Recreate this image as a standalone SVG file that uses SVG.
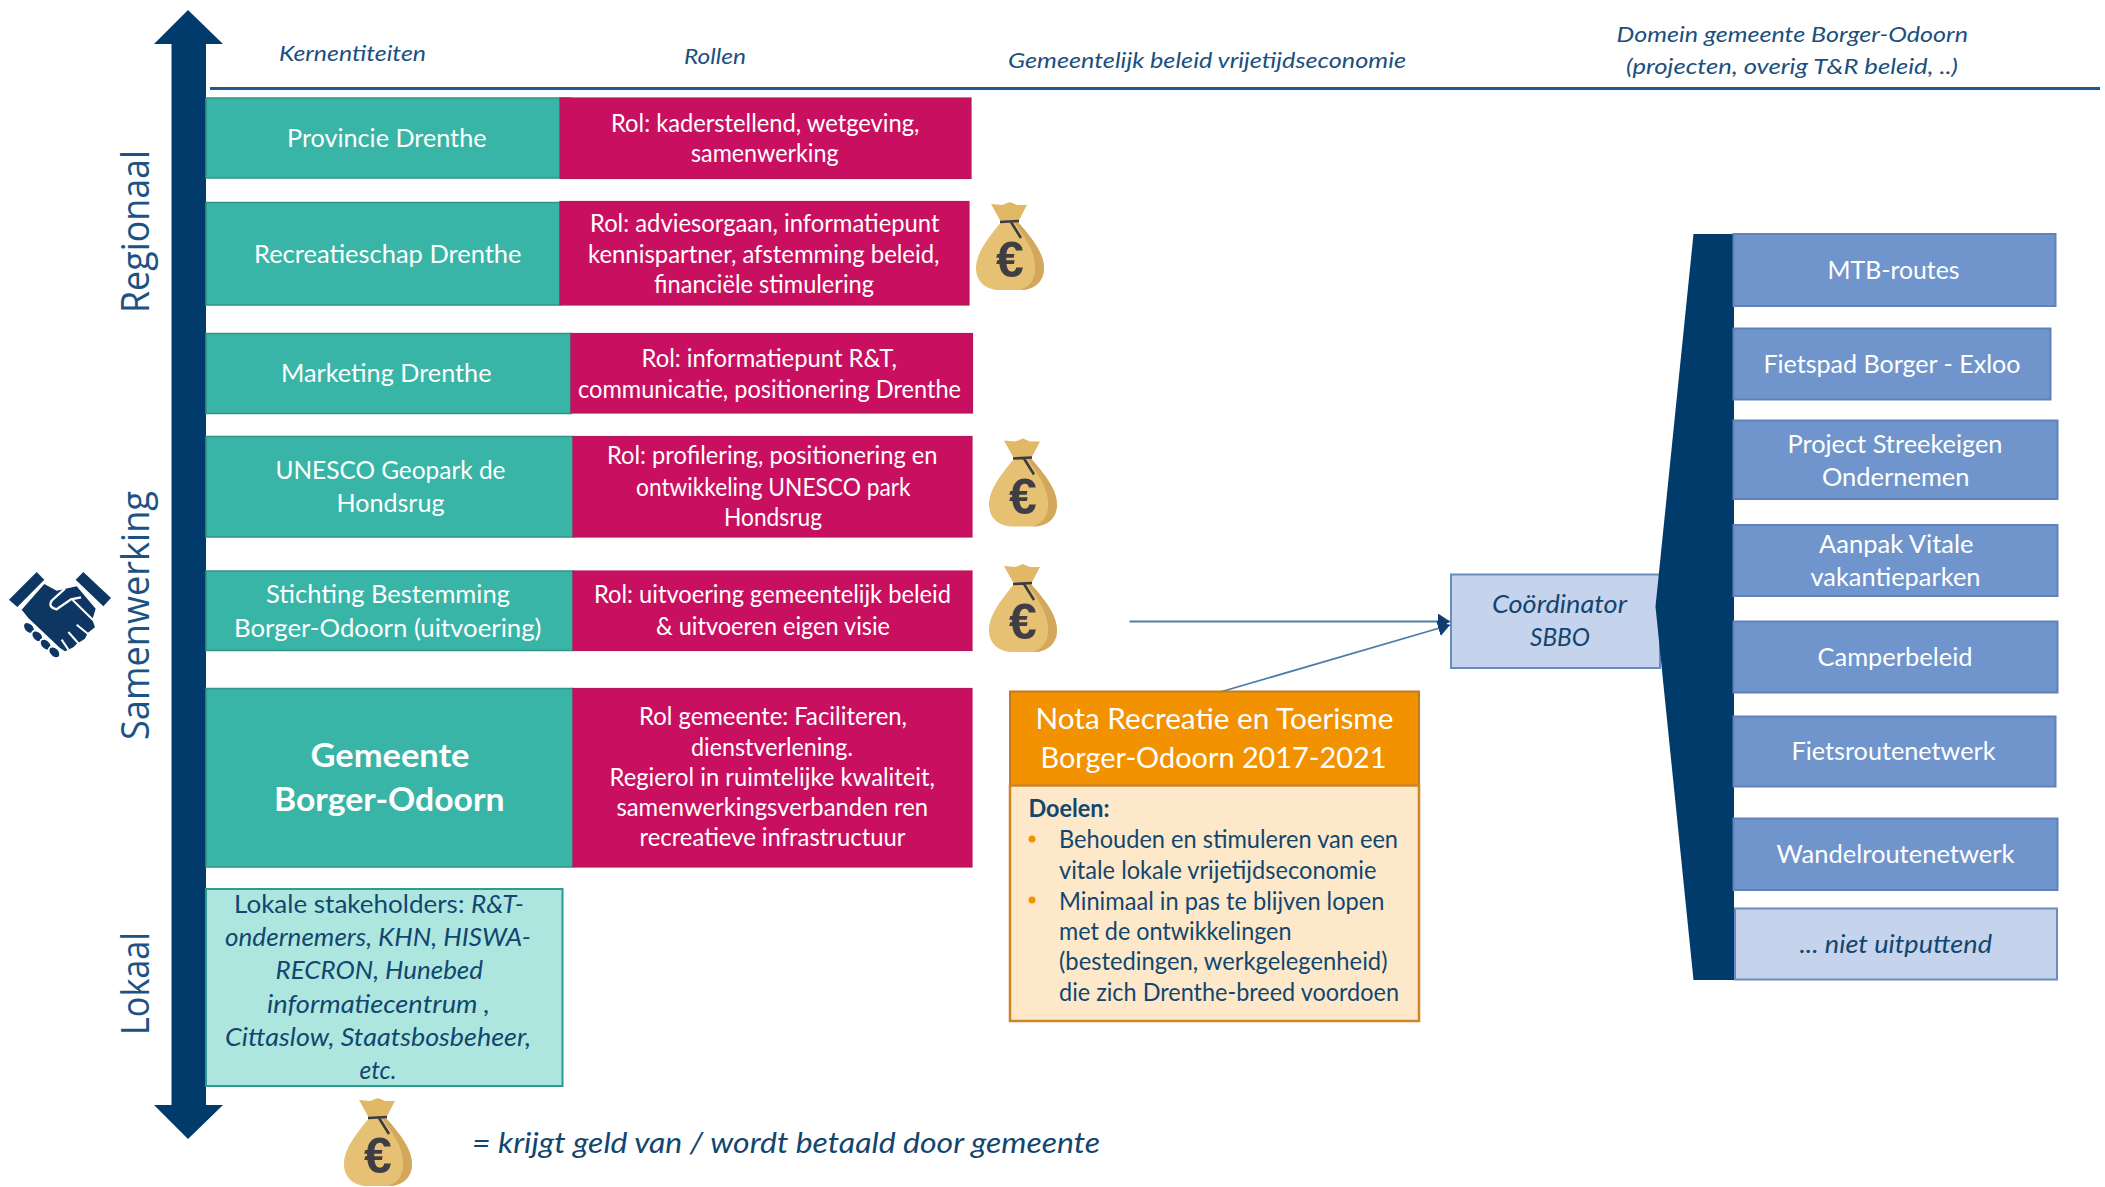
<svg xmlns="http://www.w3.org/2000/svg" xmlns:xlink="http://www.w3.org/1999/xlink" width="2105" height="1187" viewBox="0 0 2105 1187">
<style>
text{font-family:Lato,"Liberation Sans",sans-serif;white-space:pre}
.w{fill:#fff;font-size:25px}
.d{fill:#12466f;font-size:25px}
.i{font-style:italic}
.h{fill:#1c4f7d;font-size:22px;font-style:italic}
.b{font-weight:700}
.s{font-family:"Open Sans","Noto Sans",sans-serif;font-size:38px;fill:#1c5384}
.g{fill:#38b5a6;stroke:#2f9588;stroke-width:1.5}
.p{fill:#c90f60;stroke:#b3195c;stroke-width:1.2}
.lg{fill:#ade6df;stroke:#2b9c8e;stroke-width:2}
.bl{fill:#7095cc;stroke:#5f82b8;stroke-width:2}
.lb{fill:#c5d4ec;stroke:#6a8cbb;stroke-width:2}
.c{fill:none;stroke:#4f7ca6;stroke-width:1.8}
</style>
<defs>
<marker id="ah" markerUnits="userSpaceOnUse" markerWidth="12" markerHeight="16" refX="12" refY="8" orient="auto"><path d="M0 0L12 8L0 16Z" fill="#0e3f6e"/></marker>
<symbol id="bag" viewBox="0 0 68 88" overflow="visible">
<path d="M15 2L26 3L34 0L41 3L51 3L42 20L25 20Z" fill="#e1b866"/>
<path d="M25 20C14 34 0 50 0 66C0 80 10 88 24 88L44 88C58 88 68 80 68 66C68 50 54 34 42 20Z" fill="#e6c173"/>
<path d="M42 20C54 34 68 50 68 66C68 80 58 88 44 88C55 84 60 76 59 62C58 48 48 34 38 20Z" fill="#d3a85c"/>
<path d="M24 20L43 19M35 20L45 36" fill="none" stroke="#3c3c40" stroke-width="2.6"/>
<text x="34" y="75" font-size="50" font-weight="700" text-anchor="middle" fill="#3e3e44" style="font-family:'Liberation Sans',sans-serif">€</text>
</symbol>
</defs>
<rect width="2105" height="1187" fill="#fff"/>

<g id="axis">
<path d="M188 10L223 44H206V1105H223L188 1139L154 1105H171.500V44H154Z" fill="#003b6b"/>
<text class="s" transform="translate(149,313) rotate(-90)" textLength="163" lengthAdjust="spacingAndGlyphs">Regionaal</text>
<text class="s" transform="translate(149,740) rotate(-90)" textLength="249" lengthAdjust="spacingAndGlyphs">Samenwerking</text>
<text class="s" transform="translate(149,1035) rotate(-90)" textLength="103" lengthAdjust="spacingAndGlyphs">Lokaal</text>
</g>

<g id="handshake" transform="translate(5,568) scale(.3333)" fill="#0d3663">
<path d="M12 95L95 12L118 35L37 117Z"/>
<path d="M212 35L235 12L318 90L295 115Z"/>
<path d="M50 125L118 48L155 68L215 55L272 122L262 155L270 178L248 195L240 212L215 228L205 238L180 250L165 240L70 150Z"/>
<path d="M180 62L140 98Q128 118 155 124L198 94L228 88" stroke="#fff" stroke-width="7"/>
<path d="M203 96L268 160M215 170L252 200M190 192L222 228M170 215L190 245" fill="none" stroke="#fff" stroke-width="6"/>
<g stroke="#fff" stroke-width="5">
<ellipse cx="72" cy="180" rx="20" ry="14" transform="rotate(45 72 180)"/>
<ellipse cx="97" cy="205" rx="20" ry="14" transform="rotate(45 97 205)"/>
<ellipse cx="122" cy="230" rx="20" ry="14" transform="rotate(45 122 230)"/>
<ellipse cx="148" cy="253" rx="20" ry="14" transform="rotate(45 148 253)"/>
</g>
</g>

<g id="header-labels">
<text class="h" x="279" y="60.500" textLength="147" lengthAdjust="spacingAndGlyphs">Kernentiteiten</text>
<text class="h" x="684" y="63.500" textLength="62" lengthAdjust="spacingAndGlyphs">Rollen</text>
<text class="h" x="1008" y="68" textLength="398" lengthAdjust="spacingAndGlyphs">Gemeentelijk beleid vrijetijdseconomie</text>
<text class="h" x="1616.500" y="42" textLength="351.500" lengthAdjust="spacingAndGlyphs">Domein gemeente Borger-Odoorn</text>
<text class="h" x="1626" y="73.500" textLength="332" lengthAdjust="spacingAndGlyphs">(projecten, overig T&amp;R beleid, ..)</text>
<line x1="210" y1="88.500" x2="2100" y2="88.500" stroke="#1f5a8e" stroke-width="3"/>
</g>

<g id="n-provincie">
<rect class="g" x="206" y="98" width="365" height="80"/>
<text class="w" x="287" y="147" textLength="199.500" lengthAdjust="spacingAndGlyphs">Provincie Drenthe</text>
</g>
<g id="r-provincie">
<rect class="p" x="560" y="98" width="411" height="80.500"/>
<text class="w" x="611" y="131.500" textLength="308.500" lengthAdjust="spacingAndGlyphs">Rol: kaderstellend, wetgeving,</text>
<text class="w" x="691" y="162" textLength="147.500" lengthAdjust="spacingAndGlyphs">samenwerking</text>
</g>

<g id="n-recreatieschap">
<rect class="g" x="206" y="202.500" width="354" height="102.500"/>
<text class="w" x="254" y="262.500" textLength="267.500" lengthAdjust="spacingAndGlyphs">Recreatieschap Drenthe</text>
</g>
<g id="r-recreatieschap">
<rect class="p" x="560" y="201.500" width="409" height="103.500"/>
<text class="w" x="590" y="231.500" textLength="349.500" lengthAdjust="spacingAndGlyphs">Rol: adviesorgaan, informatiepunt</text>
<text class="w" x="588" y="262.500" textLength="351.500" lengthAdjust="spacingAndGlyphs">kennispartner, afstemming beleid,</text>
<text class="w" x="654" y="292.500" textLength="220" lengthAdjust="spacingAndGlyphs">financiële stimulering</text>
</g>

<g id="n-marketing">
<rect class="g" x="206" y="333.500" width="365" height="80"/>
<text class="w" x="281" y="382" textLength="210.500" lengthAdjust="spacingAndGlyphs">Marketing Drenthe</text>
</g>
<g id="r-marketing">
<rect class="p" x="571" y="333.500" width="401.500" height="79.500"/>
<text class="w" x="641.500" y="366.500" textLength="255.500" lengthAdjust="spacingAndGlyphs">Rol: informatiepunt R&amp;T,</text>
<text class="w" x="578" y="398" textLength="383" lengthAdjust="spacingAndGlyphs">communicatie, positionering Drenthe</text>
</g>

<g id="n-unesco">
<rect class="g" x="206" y="436.500" width="367" height="100.500"/>
<text class="w" x="275.500" y="478.500" textLength="230" lengthAdjust="spacingAndGlyphs">UNESCO Geopark de</text>
<text class="w" x="336.500" y="512" textLength="108" lengthAdjust="spacingAndGlyphs">Hondsrug</text>
</g>
<g id="r-unesco">
<rect class="p" x="573" y="436.500" width="399" height="100.500"/>
<text class="w" x="607" y="464" textLength="330.500" lengthAdjust="spacingAndGlyphs">Rol: profilering, positionering en</text>
<text class="w" x="636" y="495.500" textLength="274.500" lengthAdjust="spacingAndGlyphs">ontwikkeling UNESCO park</text>
<text class="w" x="724" y="525.500" textLength="98" lengthAdjust="spacingAndGlyphs">Hondsrug</text>
</g>

<g id="n-stichting">
<rect class="g" x="206" y="571" width="367" height="79.500"/>
<text class="w" x="266" y="603" textLength="244" lengthAdjust="spacingAndGlyphs">Stichting Bestemming</text>
<text class="w" x="234" y="636.500" textLength="307.500" lengthAdjust="spacingAndGlyphs">Borger-Odoorn (uitvoering)</text>
</g>
<g id="r-stichting">
<rect class="p" x="573" y="571" width="399" height="79.500"/>
<text class="w" x="594" y="603" textLength="357" lengthAdjust="spacingAndGlyphs">Rol: uitvoering gemeentelijk beleid</text>
<text class="w" x="656" y="634.500" textLength="234" lengthAdjust="spacingAndGlyphs">&amp; uitvoeren eigen visie</text>
</g>

<g id="n-gemeente">
<rect class="g" x="206" y="688.500" width="367" height="178.500"/>
<text class="w b" style="font-size:32px" x="310.500" y="767" textLength="159" lengthAdjust="spacingAndGlyphs">Gemeente</text>
<text class="w b" style="font-size:32px" x="274" y="811" textLength="230.500" lengthAdjust="spacingAndGlyphs">Borger-Odoorn</text>
</g>
<g id="r-gemeente">
<rect class="p" x="573" y="688.500" width="399" height="178.500"/>
<text class="w" x="639" y="724.500" textLength="268" lengthAdjust="spacingAndGlyphs">Rol gemeente: Faciliteren,</text>
<text class="w" x="691" y="755.500" textLength="162" lengthAdjust="spacingAndGlyphs">dienstverlening.</text>
<text class="w" x="609.500" y="785.500" textLength="325.500" lengthAdjust="spacingAndGlyphs">Regierol in ruimtelijke kwaliteit,</text>
<text class="w" x="616.500" y="816" textLength="311.500" lengthAdjust="spacingAndGlyphs">samenwerkingsverbanden ren</text>
<text class="w" x="639.500" y="846" textLength="266" lengthAdjust="spacingAndGlyphs">recreatieve infrastructuur</text>
</g>

<g id="n-lokaal">
<rect class="lg" x="206" y="889" width="356.500" height="197"/>
<text class="d" x="234" y="913" textLength="290" lengthAdjust="spacingAndGlyphs">Lokale stakeholders: <tspan class="i">R&amp;T-</tspan></text>
<text class="d i" x="225" y="946" textLength="306" lengthAdjust="spacingAndGlyphs">ondernemers, KHN, HISWA-</text>
<text class="d i" x="275.500" y="979" textLength="207.500" lengthAdjust="spacingAndGlyphs">RECRON, Hunebed</text>
<text class="d i" x="267" y="1012.500" textLength="223" lengthAdjust="spacingAndGlyphs">informatiecentrum ,</text>
<text class="d i" x="225" y="1045.500" textLength="306" lengthAdjust="spacingAndGlyphs">Cittaslow, Staatsbosbeheer,</text>
<text class="d i" x="359.500" y="1079" textLength="37" lengthAdjust="spacingAndGlyphs">etc.</text>
</g>

<g id="bags">
<use xlink:href="#bag" href="#bag" x="976" y="202" width="68" height="88"/>
<use xlink:href="#bag" href="#bag" x="989" y="438.500" width="68" height="88"/>
<use xlink:href="#bag" href="#bag" x="989" y="564" width="68" height="88"/>
<use xlink:href="#bag" href="#bag" x="344" y="1098" width="68" height="88"/>
</g>
<g id="legend">
<text class="d i" style="font-size:28px" x="472" y="1153" textLength="628" lengthAdjust="spacingAndGlyphs">= krijgt geld van / wordt betaald door gemeente</text>
</g>

<g id="connectors">
<line class="c" x1="1129.500" y1="621.500" x2="1450" y2="621.500" marker-end="url(#ah)"/>
<line class="c" x1="1215" y1="693.500" x2="1450" y2="625" marker-end="url(#ah)"/>
</g>

<g id="n-nota">
<rect x="1010" y="691.500" width="409" height="94" fill="#f29200" stroke="#c67a1f" stroke-width="2"/>
<rect x="1010" y="785.500" width="409" height="235.500" fill="#fde9c9" stroke="#cf8426" stroke-width="2.500"/>
<text class="w" style="font-size:28px" x="1035.500" y="729" textLength="358" lengthAdjust="spacingAndGlyphs">Nota Recreatie en Toerisme</text>
<text class="w" style="font-size:28px" x="1040.500" y="767.500" textLength="346" lengthAdjust="spacingAndGlyphs">Borger-Odoorn 2017-2021</text>
<text class="d b" x="1028.500" y="816.500" textLength="81" lengthAdjust="spacingAndGlyphs">Doelen:</text>
<circle cx="1032" cy="839" r="3.500" fill="#f29200"/>
<text class="d" x="1059" y="848" textLength="339" lengthAdjust="spacingAndGlyphs">Behouden en stimuleren van een</text>
<text class="d" x="1059" y="879" textLength="317.500" lengthAdjust="spacingAndGlyphs">vitale lokale vrijetijdseconomie</text>
<circle cx="1032" cy="900" r="3.500" fill="#f29200"/>
<text class="d" x="1059" y="910" textLength="325.500" lengthAdjust="spacingAndGlyphs">Minimaal in pas te blijven lopen</text>
<text class="d" x="1059" y="940" textLength="232.500" lengthAdjust="spacingAndGlyphs">met de ontwikkelingen</text>
<text class="d" x="1059" y="970" textLength="328.500" lengthAdjust="spacingAndGlyphs">(bestedingen, werkgelegenheid)</text>
<text class="d" x="1059" y="1001" textLength="340" lengthAdjust="spacingAndGlyphs">die zich Drenthe-breed voordoen</text>
</g>

<g id="n-coordinator">
<rect class="lb" x="1451" y="574.500" width="209" height="93.500"/>
<text class="d i" x="1492" y="613" textLength="135" lengthAdjust="spacingAndGlyphs">Coördinator</text>
<text class="d i" x="1530" y="646" textLength="60" lengthAdjust="spacingAndGlyphs">SBBO</text>
</g>

<g id="bracket">
<path d="M1693.500 234H1734V980H1693.500L1655.500 606.500Z" fill="#003b6b"/>
</g>

<g id="n-mtb"><rect class="bl" x="1733.500" y="234" width="322" height="72"/>
<text class="w" x="1827.500" y="279" textLength="132" lengthAdjust="spacingAndGlyphs">MTB-routes</text></g>
<g id="n-fietspad"><rect class="bl" x="1733.500" y="328.500" width="317" height="71"/>
<text class="w" x="1763.500" y="372.500" textLength="257" lengthAdjust="spacingAndGlyphs">Fietspad Borger - Exloo</text></g>
<g id="n-project"><rect class="bl" x="1733.500" y="420.500" width="324" height="78.500"/>
<text class="w" x="1787.500" y="452.500" textLength="215" lengthAdjust="spacingAndGlyphs">Project Streekeigen</text>
<text class="w" x="1822" y="485.500" textLength="147.500" lengthAdjust="spacingAndGlyphs">Ondernemen</text></g>
<g id="n-aanpak"><rect class="bl" x="1733.500" y="525" width="324" height="71"/>
<text class="w" x="1819" y="552.500" textLength="154.500" lengthAdjust="spacingAndGlyphs">Aanpak Vitale</text>
<text class="w" x="1810.500" y="585.500" textLength="170" lengthAdjust="spacingAndGlyphs">vakantieparken</text></g>
<g id="n-camper"><rect class="bl" x="1733.500" y="621.500" width="324" height="71"/>
<text class="w" x="1817.500" y="665.500" textLength="155" lengthAdjust="spacingAndGlyphs">Camperbeleid</text></g>
<g id="n-fietsroute"><rect class="bl" x="1733.500" y="716.500" width="322" height="70"/>
<text class="w" x="1791.500" y="760" textLength="204" lengthAdjust="spacingAndGlyphs">Fietsroutenetwerk</text></g>
<g id="n-wandel"><rect class="bl" x="1733.500" y="818.500" width="324" height="71.500"/>
<text class="w" x="1776.500" y="862.500" textLength="238" lengthAdjust="spacingAndGlyphs">Wandelroutenetwerk</text></g>
<g id="n-niet"><rect class="lb" x="1735" y="908.500" width="322" height="71"/>
<text class="d i" x="1799.500" y="952.500" textLength="192.500" lengthAdjust="spacingAndGlyphs">... niet uitputtend</text></g>
</svg>
